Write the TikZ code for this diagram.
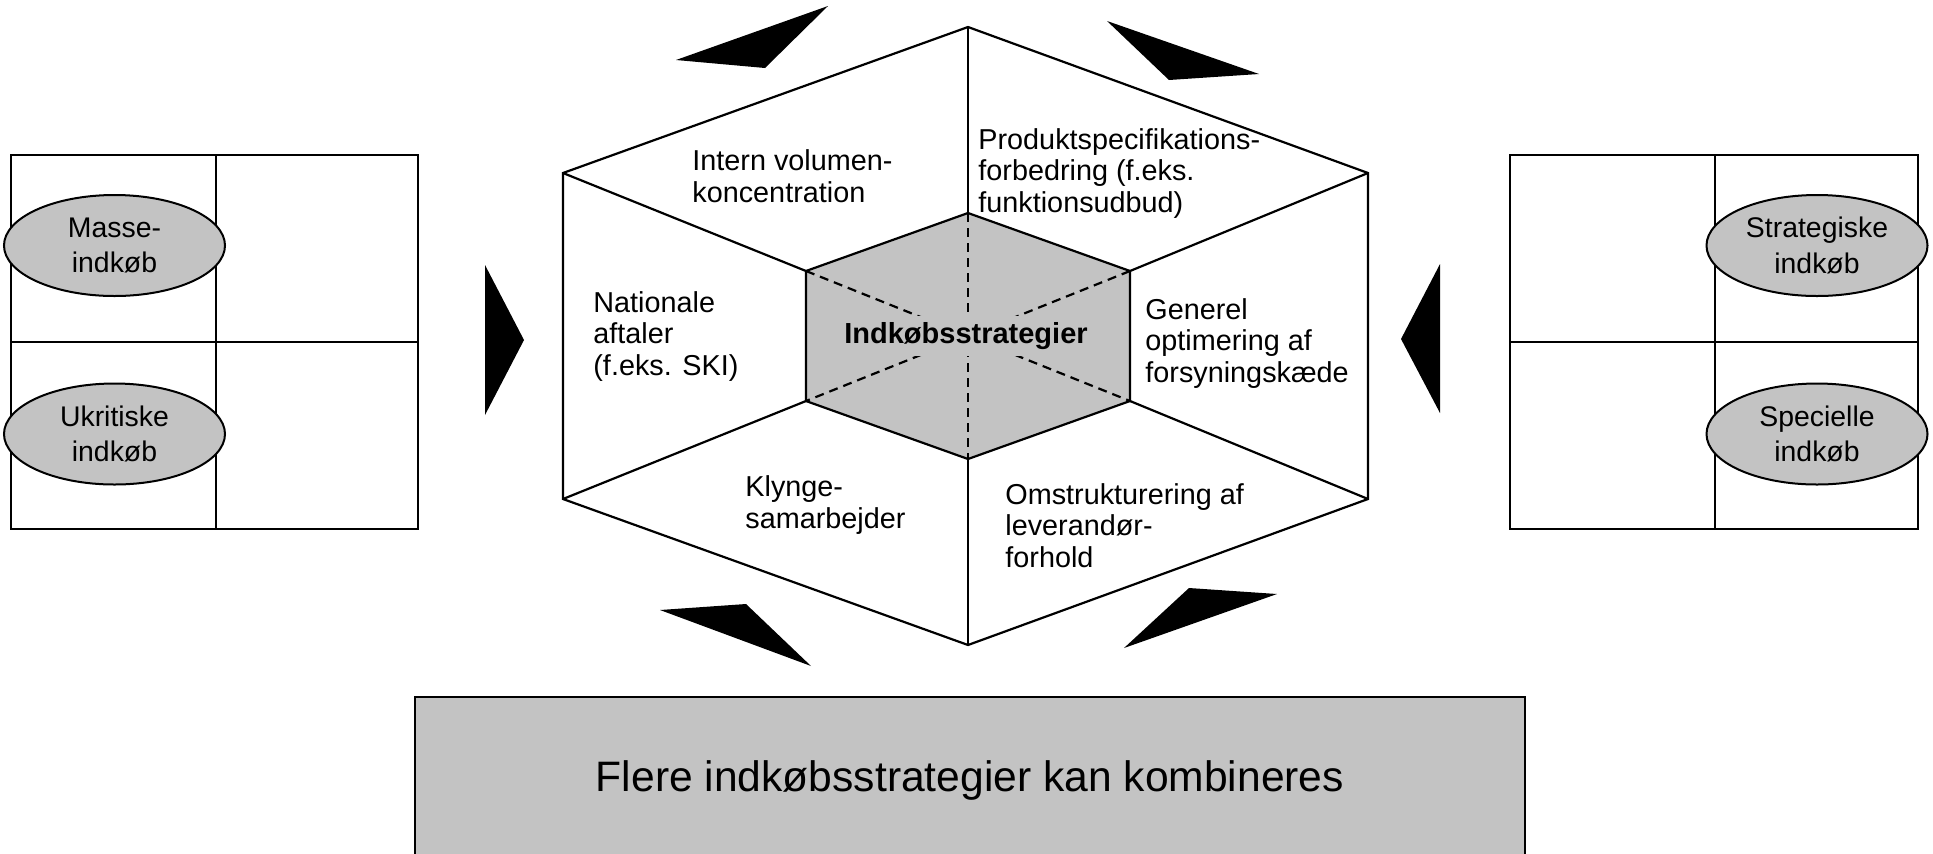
\documentclass[tikz,border=0pt]{standalone}
\usepackage{fontspec}
\setmainfont{Liberation Sans}
\usetikzlibrary{shapes.geometric}
\definecolor{fillgray}{RGB}{195,195,195}
\begin{document}
\begin{tikzpicture}[x=0.5pt,y=-0.5pt,
  line join=miter,
  edge/.style={line width=1.1pt},
  gridline/.style={line width=1pt},
  diag/.style={line width=1.1pt,dash pattern=on 4.5pt off 3pt},
  wedge/.style={fill=black,draw=none},
  hextext/.style={font=\fontsize{14.4}{15.7}\selectfont,align=left,anchor=base west,inner sep=0pt},
  oval/.style={ellipse,draw,fill=fillgray,line width=1pt,minimum width=110.5pt,minimum height=50.5pt,inner sep=0pt,align=center,font=\fontsize{14.2}{17.6}\selectfont},
]
\useasboundingbox (0,0) rectangle (1933,853);

% left grid
\draw[gridline] (11,155) rectangle (418,529);
\draw[gridline] (216,155) -- (216,529);
\draw[gridline] (11,342) -- (418,342);
\node[oval] (masse) at (114.5,245.5) {Masse-\\indkøb};
\node[oval] (ukritiske) at (114.5,434) {Ukritiske\\indkøb};

% right grid
\draw[gridline] (1510,155) rectangle (1918,529);
\draw[gridline] (1715,155) -- (1715,529);
\draw[gridline] (1510,342) -- (1918,342);
\node[oval] (strategiske) at (1817,245.5) {Strategiske\\indkøb};
\node[oval] (specielle) at (1817,434) {Specielle\\indkøb};

% hexagon vertices
\coordinate (T) at (968,27);
\coordinate (UL) at (563,173);
\coordinate (UR) at (1368,173);
\coordinate (LL) at (563,499);
\coordinate (LR) at (1368,499);
\coordinate (B) at (968,645);
\coordinate (t) at (968,213);
\coordinate (ul) at (806,271);
\coordinate (ur) at (1130,271);
\coordinate (ll) at (806,401);
\coordinate (lr) at (1130,401);
\coordinate (b) at (968,459);

\draw[edge] (T) -- (UL) -- (LL) -- (B) -- (LR) -- (UR) -- cycle;
\draw[edge] (t) -- (T);
\draw[edge] (ul) -- (UL);
\draw[edge] (ur) -- (UR);
\draw[edge] (ll) -- (LL);
\draw[edge] (lr) -- (LR);
\draw[edge] (b) -- (B);
\draw[edge,fill=fillgray] (t) -- (ur) -- (lr) -- (b) -- (ll) -- (ul) -- cycle;
\draw[diag] (t) -- (b);
\draw[diag] (ul) -- (lr);
\draw[diag] (ur) -- (ll);
\node[fill=fillgray,inner sep=3pt,font=\fontsize{14.5}{17}\selectfont\bfseries] (centre) at (966,336) {Indkøbsstrategier};

% segment texts (anchored at baseline of last line)
\node[hextext] (intern) at (692,202) {Intern volumen-\\koncentration};
\node[hextext] (produkt) at (978,212) {Produktspecifikations-\\forbedring (f.eks.\\funktionsudbud)};
\node[hextext] (nationale) at (593,375) {Nationale\\aftaler\\(f.eks. SKI)};
\node[hextext] (generel) at (1145,382) {Generel\\optimering af\\forsyningskæde};
\node[hextext] (klynge) at (745,528) {Klynge-\\samarbejder};
\node[hextext] (omstrukt) at (1005,567) {Omstrukturering af\\leverandør-\\forhold};

% wedges
\fill[wedge] (676,60) -- (828,6) -- (765,68) -- cycle;
\fill[wedge] (1107,21) -- (1259,74) -- (1169,80) -- cycle;
\fill[wedge] (660,610) -- (746,604) -- (811,666) -- cycle;
\fill[wedge] (1124,648) -- (1189,588) -- (1277,594) -- cycle;
\fill[wedge] (485,265) -- (524,340) -- (485,415) -- cycle;
\fill[wedge] (1440,264) -- (1401,339) -- (1440,413) -- cycle;

% bottom box
\node[draw,fill=fillgray,line width=1pt,minimum width=555pt,minimum height=83pt,inner sep=0pt,font=\fontsize{21.3}{25}\selectfont] (combine) at (970,780) {Flere indkøbsstrategier kan kombineres};
\end{tikzpicture}
\end{document}
